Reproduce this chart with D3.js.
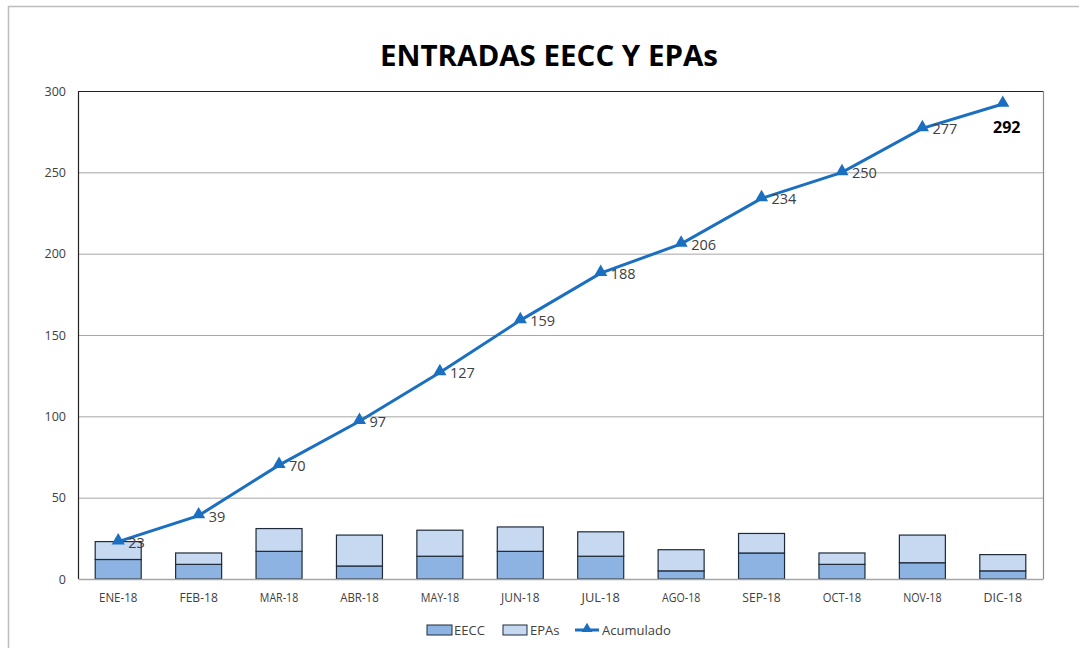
<!DOCTYPE html>
<html><head><meta charset="utf-8">
<script src="https://cdn.jsdelivr.net/npm/d3@7"></script>
<style>body{margin:0;background:#fff}svg{display:block}</style>
</head><body>
<svg id="chart" width="1079" height="648"></svg>
<script>
const categories = ["ENE-18","FEB-18","MAR-18","ABR-18","MAY-18","JUN-18","JUL-18","AGO-18","SEP-18","OCT-18","NOV-18","DIC-18"];
const eecc = [12, 9, 17, 8, 14, 17, 14, 5, 16, 9, 10, 5];
const epas = [11, 7, 14, 19, 16, 15, 15, 13, 12, 7, 17, 10];
const acumulado = [23, 39, 70, 97, 127, 159, 188, 206, 234, 250, 277, 292];
const yTicks = [0, 50, 100, 150, 200, 250, 300];

const svg = d3.select("#chart");
const W = 1079, H = 648;
const m = {left: 78, right: 1043, top: 91, bottom: 579};
const font = "'Open Sans', 'Liberation Sans', sans-serif";

// outer border
svg.append("rect").attr("x", 8.5).attr("y", 6.5).attr("width", W).attr("height", H)
  .attr("fill", "none").attr("stroke", "#bdbdbd").attr("stroke-width", 1.5);

const x = d3.scaleBand().domain(categories).range([m.left, m.right]).paddingInner(0).paddingOuter(0);
const y = d3.scaleLinear().domain([0, 300]).range([m.bottom, m.top]);

// gridlines
svg.append("g").selectAll("line").data(yTicks.filter(t => t > 0 && t < 300)).join("line")
  .attr("x1", m.left).attr("x2", m.right).attr("y1", d => y(d) + 0.5).attr("y2", d => y(d) + 0.5)
  .attr("stroke", "#a6a6a6").attr("stroke-width", 1);

// plot border
svg.append("line").attr("x1", m.left).attr("x2", m.right).attr("y1", y(300) + 0.5).attr("y2", y(300) + 0.5).attr("stroke", "#222").attr("stroke-width", 1.2);
svg.append("line").attr("x1", m.left + 0.5).attr("x2", m.left + 0.5).attr("y1", m.top).attr("y2", m.bottom).attr("stroke", "#222").attr("stroke-width", 1.2);
svg.append("line").attr("x1", m.right + 0.5).attr("x2", m.right + 0.5).attr("y1", m.top).attr("y2", m.bottom).attr("stroke", "#8c8c8c").attr("stroke-width", 1.2);

// y axis
const yAxis = d3.axisLeft(y).tickValues(yTicks).tickSize(0).tickPadding(12);
const ya = svg.append("g").attr("transform", `translate(${m.left},0)`).call(yAxis);
ya.select(".domain").remove();
ya.selectAll("text").attr("font-family", font).attr("font-size", 12.5).attr("fill", "#404040");

// bars
const bw = 46;
const bars = svg.append("g");
categories.forEach((c, i) => {
  const cx = x(c) + x.bandwidth() / 2;
  bars.append("rect").attr("x", cx - bw / 2).attr("width", bw)
    .attr("y", y(eecc[i])).attr("height", y(0) - y(eecc[i]))
    .attr("fill", "#8db3e2").attr("stroke", "#1f2b3a").attr("stroke-width", 1.2);
  bars.append("rect").attr("x", cx - bw / 2).attr("width", bw)
    .attr("y", y(eecc[i] + epas[i])).attr("height", y(eecc[i]) - y(eecc[i] + epas[i]))
    .attr("fill", "#c6d9f1").attr("stroke", "#1f2b3a").attr("stroke-width", 1.2);
});

// x axis
const xAxis = d3.axisBottom(x).tickSize(0).tickPadding(14);
const xa = svg.append("g").attr("transform", `translate(0,${m.bottom})`).call(xAxis);
xa.select(".domain").attr("stroke", "#a6a6a6").attr("stroke-width", 1.5);
xa.selectAll(".tick text").attr("font-family", font).attr("font-size", 13).attr("fill", "#404040")
  .attr("textLength", d => d.length * 6.4).attr("lengthAdjust", "spacingAndGlyphs");

// line
const lineColor = "#1a6fc0";
const line = d3.line().x((d, i) => x(categories[i]) + x.bandwidth() / 2).y(d => y(d));
svg.append("path").datum(acumulado).attr("d", line).attr("fill", "none")
  .attr("stroke", lineColor).attr("stroke-width", 3);
const tri = d3.symbol().type(d3.symbolTriangle).size(75);
svg.append("g").selectAll("path").data(acumulado).join("path")
  .attr("d", tri)
  .attr("transform", (d, i) => `translate(${x(categories[i]) + x.bandwidth() / 2},${y(d) - 1})`)
  .attr("fill", lineColor);

// labels
const last = acumulado.length - 1;
svg.append("g").selectAll("text").data(acumulado).join("text")
  .attr("x", (d, i) => i === last ? x(categories[i]) + x.bandwidth() / 2 + 4 : x(categories[i]) + x.bandwidth() / 2 + 10)
  .attr("y", (d, i) => i === last ? y(d) + 29 : y(d) + 6)
  .attr("text-anchor", (d, i) => i === last ? "middle" : "start")
  .attr("font-family", font)
  .attr("font-size", (d, i) => i === last ? 16 : 14.5)
  .attr("font-weight", (d, i) => i === last ? "bold" : "normal")
  .attr("fill", (d, i) => i === last ? "#000" : "#404040")
  .text(d => d);

// title
svg.append("text").attr("x", 549).attr("y", 66).attr("text-anchor", "middle")
  .attr("font-family", font).attr("font-weight", "bold").attr("font-size", 29)
  .attr("fill", "#000").attr("textLength", 338).attr("lengthAdjust", "spacingAndGlyphs")
  .text("ENTRADAS EECC Y EPAs");

// legend
const lg = svg.append("g");
const ly = 630;
lg.append("rect").attr("x", 427).attr("y", ly - 5).attr("width", 25).attr("height", 10)
  .attr("fill", "#8db3e2").attr("stroke", "#1f2b3a").attr("stroke-width", 1);
lg.append("text").attr("x", 454).attr("y", ly + 5).attr("font-family", font).attr("font-size", 13).attr("fill", "#404040").text("EECC");
lg.append("rect").attr("x", 503).attr("y", ly - 5).attr("width", 24).attr("height", 10)
  .attr("fill", "#c6d9f1").attr("stroke", "#1f2b3a").attr("stroke-width", 1);
lg.append("text").attr("x", 530).attr("y", ly + 5).attr("font-family", font).attr("font-size", 13).attr("fill", "#404040").text("EPAs");
lg.append("line").attr("x1", 575).attr("x2", 599).attr("y1", ly).attr("y2", ly).attr("stroke", lineColor).attr("stroke-width", 3);
lg.append("path").attr("d", d3.symbol().type(d3.symbolTriangle).size(50)).attr("transform", `translate(587,${ly - 1})`).attr("fill", lineColor);
lg.append("text").attr("x", 602).attr("y", ly + 5).attr("font-family", font).attr("font-size", 13).attr("fill", "#404040").text("Acumulado");
</script>
</body></html>
